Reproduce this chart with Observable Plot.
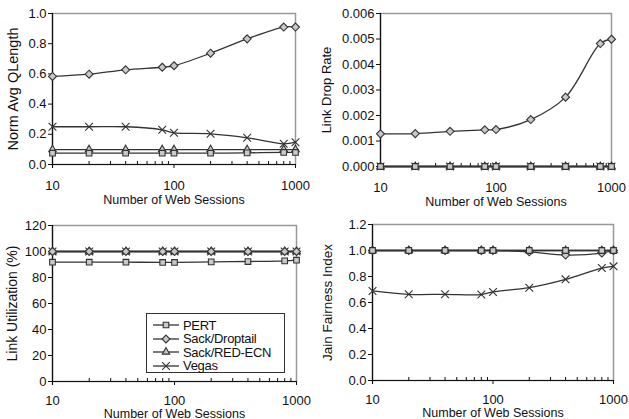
<!DOCTYPE html>
<html>
<head>
<meta charset="utf-8">
<script src="https://cdn.jsdelivr.net/npm/d3@7"></script>
<script src="https://cdn.jsdelivr.net/npm/@observablehq/plot@0.6"></script>
<style>
  html, body { margin: 0; padding: 0; background: #fff; }
  #root { position: relative; width: 629px; height: 419px; overflow: hidden; font-family: "Liberation Sans", Arial, sans-serif; }
  .panel { position: absolute; }
  #legend { position: absolute; left: 146px; top: 313px; width: 139px; height: 60px; border: 1px solid #333; background: #fff; box-sizing: border-box; }
  #legend .row { position: absolute; left: 5px; height: 14px; display: flex; align-items: center; font-size: 13px; color: #111; letter-spacing: -0.3px; }
  #legend svg { margin-right: 3px; }
</style>
</head>
<body>
<div id="root"><div id="legend"></div></div>
<script>
// ---------- data ----------
const sessions = [10, 20, 40, 80, 100, 200, 400, 800, 1000];
const seriesNames = ["PERT", "Sack/Droptail", "Sack/RED-ECN", "Vegas"];
const symbols = ["square2", "diamond2", "triangle2", "times"];

// Normalized average queue length
const qlenPert     = [0.075, 0.075, 0.075, 0.075, 0.075, 0.075, 0.077, 0.08, 0.08];
const qlenDroptail = [0.583, 0.598, 0.627, 0.644, 0.654, 0.737, 0.832, 0.91, 0.91];
const qlenRed      = [0.099, 0.099, 0.099, 0.099, 0.099, 0.099, 0.099, 0.099, 0.099];
const qlenVegas    = [0.25, 0.25, 0.25, 0.23, 0.21, 0.203, 0.177, 0.137, 0.148];

// Link drop rate
const dropPert     = [0, 0, 0, 0, 0, 0, 0, 0, 0];
const dropDroptail = [0.00128, 0.00129, 0.00138, 0.00144, 0.00145, 0.00184, 0.00272, 0.00482, 0.00499];
const dropRed      = [0, 0, 0, 0, 0, 0, 0, 0, 0];
const dropVegas    = [0, 0, 0, 0, 0, 0, 0, 0, 0];

// Link utilization (%)
const utilPert     = [91.8, 91.8, 91.8, 91.6, 91.6, 92, 92.3, 92.8, 93.3];
const utilDroptail = [100, 100, 100, 100, 100, 100, 100, 100, 100];
const utilRed      = [100, 100, 100, 100, 100, 100, 100, 100, 100];
const utilVegas    = [100, 100, 100, 100, 100, 100, 100, 100, 100];

// Jain fairness index
const jainPert     = [1, 1, 1, 1, 1, 1, 1, 1, 1];
const jainDroptail = [1, 1, 1, 1, 1, 0.99, 0.965, 0.98, 1];
const jainRed      = [1, 1, 1, 1, 1, 1, 1, 1, 1];
const jainVegas    = [0.689, 0.663, 0.663, 0.661, 0.681, 0.714, 0.778, 0.865, 0.878];

const majorTicks = [10, 100, 1000];
const minorTicks = [20, 30, 40, 50, 60, 70, 80, 90, 200, 300, 400, 500, 600, 700, 800, 900];

// ---------- helpers ----------
function table(arrs) {
  // draw order: Vegas, RED, Droptail, PERT (PERT on top)
  const order = [3, 2, 1, 0];
  const rows = [];
  for (const i of order) sessions.forEach((s, j) => rows.push({s, v: arrs[i][j], series: seriesNames[i]}));
  return rows;
}

const ink = "#333";
const fontFamily = '"Liberation Sans", Arial, sans-serif';

function panel(cfg) {
  const data = table(cfg.arrays);
  const innerH = cfg.height - cfg.mt - cfg.mb;
  const plot = Plot.plot({
    width: cfg.width,
    height: cfg.height,
    marginLeft: cfg.ml, marginRight: cfg.mr, marginTop: cfg.mt, marginBottom: cfg.mb,
    style: {fontFamily, fontSize: "13px", color: "#111", background: "transparent", overflow: "visible"},
    x: {type: "log", domain: [10, 1000], axis: null},
    y: {domain: cfg.yDomain, axis: null},
    symbol: {domain: seriesNames, range: symbols},
    marks: [
      Plot.frame({stroke: "#999", strokeWidth: 1.5}),
      Plot.ruleY([cfg.yDomain[0]], {stroke: "#111", strokeWidth: 1.2}),
      Plot.ruleX([10], {stroke: "#111", strokeWidth: 1.2, insetBottom: -4}),
      Plot.ruleX(minorTicks, {x: d => d, stroke: "#111", strokeWidth: 1, insetTop: innerH - 3}),
      Plot.axisX({ticks: majorTicks, tickSize: 4, tickPadding: cfg.xPad, tickFormat: d3.format("d"),
        fontSize: 13, label: "Number of Web Sessions", labelAnchor: "center", labelArrow: "none",
        labelOffset: cfg.xLabelOffset, stroke: "#111"}),
      Plot.axisY({ticks: cfg.yTicks, tickSize: 4, tickPadding: 2, tickFormat: cfg.yFormat, fontSize: 13,
        label: cfg.yLabel, labelAnchor: "center", labelArrow: "none", labelOffset: cfg.yLabelOffset, stroke: "#111"}),
      Plot.line(data, {x: "s", y: "v", z: "series", curve: "catmull-rom", stroke: ink, strokeWidth: 1.3}),
      Plot.dot(data, {x: "s", y: "v", symbol: "series", r: 3.6, stroke: ink, strokeWidth: 1.1, fill: "#c8c8c8"})
    ]
  });
  plot.classList.add("panel");
  plot.style.left = cfg.left + "px";
  plot.style.top = cfg.top + "px";
  // adjust label font sizes
  plot.querySelectorAll("[aria-label='y-axis label'] text, g[aria-label='y-axis label'] text").forEach(t => t.style.fontSize = cfg.yLabelSize + "px");
  plot.querySelectorAll("[aria-label='x-axis label'] text, g[aria-label='x-axis label'] text").forEach(t => t.style.fontSize = "12.5px");
  document.getElementById("root").insertBefore(plot, document.getElementById("legend"));
}

panel({left: 0, top: 0, width: 314, height: 210, ml: 52, mr: 19, mt: 13, mb: 46,
  arrays: [qlenPert, qlenDroptail, qlenRed, qlenVegas], yDomain: [0, 1],
  yTicks: d3.range(0, 1.01, 0.2), yFormat: d3.format(".1f"), yLabel: "Norm Avg QLength",
  yLabelOffset: 45, yLabelSize: 14.5, xPad: 12, xLabelOffset: 39});

panel({left: 314, top: 0, width: 315, height: 210, ml: 66, mr: 18, mt: 13, mb: 44,
  arrays: [dropPert, dropDroptail, dropRed, dropVegas], yDomain: [0, 0.006],
  yTicks: d3.range(0, 0.00601, 0.001), yFormat: d3.format(".3f"), yLabel: "Link Drop Rate",
  yLabelOffset: 59, yLabelSize: 13, xPad: 12, xLabelOffset: 39});

panel({left: 0, top: 210, width: 314, height: 209, ml: 52, mr: 18, mt: 15, mb: 38,
  arrays: [utilPert, utilDroptail, utilRed, utilVegas], yDomain: [0, 120],
  yTicks: d3.range(0, 121, 20), yFormat: d3.format("d"), yLabel: "Link Utilization (%)",
  yLabelOffset: 45, yLabelSize: 14, xPad: 10, xLabelOffset: 36});

panel({left: 314, top: 210, width: 315, height: 209, ml: 58, mr: 16, mt: 14, mb: 39,
  arrays: [jainPert, jainDroptail, jainRed, jainVegas], yDomain: [0, 1.2],
  yTicks: d3.range(0, 1.201, 0.2), yFormat: d3.format(".1f"), yLabel: "Jain Fairness Index",
  yLabelOffset: 50, yLabelSize: 13.5, xPad: 10, xLabelOffset: 36});

// ---------- legend ----------
const legend = d3.select("#legend");
const symMap = {square2: d3.symbolSquare2, diamond2: d3.symbolDiamond2, triangle2: d3.symbolTriangle2, times: d3.symbolTimes};
seriesNames.forEach((name, i) => {
  const row = legend.append("div").attr("class", "row").style("top", (4 + i * 13.5) + "px");
  const svg = row.append("svg").attr("width", 28).attr("height", 12);
  svg.append("line").attr("x1", 1).attr("x2", 27).attr("y1", 6).attr("y2", 6).attr("stroke", ink).attr("stroke-width", 1.3);
  svg.append("path").attr("transform", "translate(14,6)")
    .attr("d", d3.symbol(symMap[symbols[i]], 40)())
    .attr("fill", symbols[i] === "times" ? "none" : "#c8c8c8").attr("stroke", ink).attr("stroke-width", 1.1);
  row.append("span").text(name);
});
</script>
</body>
</html>
